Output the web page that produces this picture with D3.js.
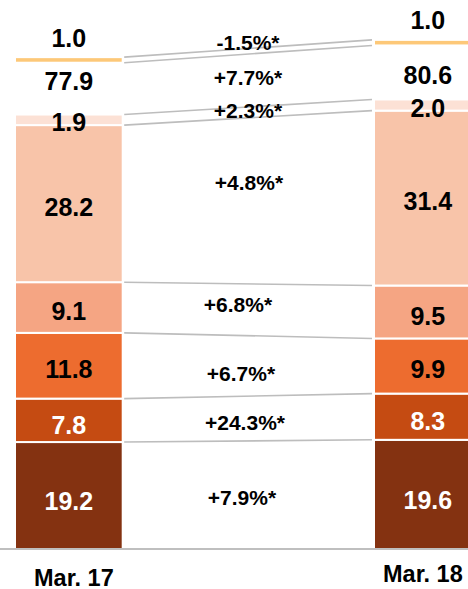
<!DOCTYPE html>
<html>
<head>
<meta charset="utf-8">
<script src="https://cdn.jsdelivr.net/npm/d3@7"></script>
<style>
  html, body { margin: 0; padding: 0; background: #fff; }
  svg { display: block; }
  text { font-family: "Liberation Sans", Arial, Helvetica, sans-serif; font-weight: bold; }
</style>
</head>
<body>
<svg id="chart" width="468" height="589"></svg>
<script>
// ---------------- DATA ----------------
const categories = ["Mar. 17", "Mar. 18"];
const segment1 = [19.2, 19.6];
const segment2 = [7.8, 8.3];
const segment3 = [11.8, 9.9];
const segment4 = [9.1, 9.5];
const segment5 = [28.2, 31.4];
const segment6 = [1.9, 2.0];
const totals = [77.9, 80.6];
const breakGap = [9.3, 9.7];      // invisible spacer (broken-axis gap)
const segmentTop = [1.0, 1.0];
const growthLabels = ["+7.9%*", "+24.3%*", "+6.7%*", "+6.8%*", "+4.8%*", "+2.3%*", "+7.7%*", "-1.5%*"];

// ---------------- LAYOUT / STYLE ----------------
const W = 468, H = 589;
const baseY = 549;
const colors = ["#843211", "#c54b12", "#ed6c2f", "#f5a583", "#f8c4a9", "#fce1d5", "none", "#fdc878"];
const textColors = ["#fff", "#fff", "#000", "#000", "#000", "#000", "#000", "#000"];
const valueFont = 25, growthFont = 21, axisFont = 23.5;
const valueNudge = [5.5, 4.5, 3, 4, 3, 2.5];
const totalNudge = [-7.6, 2.5];
const growthNudgeY = [3, 3.6, 8, -4.8, -18, -2.4, -2.6, -8.6];
const growthX = [242, 245, 241, 238, 249, 248, 248, 248];
const axisDx = [5, -5], axisCenterY = [577.5, 573.5];

const keys = ["s1", "s2", "s3", "s4", "s5", "s6", "gap", "top"];
const seriesArrays = [segment1, segment2, segment3, segment4, segment5, segment6, breakGap, segmentTop];
const table = categories.map((c, i) => {
  const row = { cat: c };
  keys.forEach((k, j) => row[k] = seriesArrays[j][i]);
  return row;
});
const stacked = d3.stack().keys(keys)(table);

const svg = d3.select("#chart");
const x = d3.scaleBand().domain(categories).range([15, 481.7]).paddingInner(0.7).paddingOuter(0);
const y = d3.scaleLinear().domain([0, 98.56]).range([baseY, 0]);
const bw = x.bandwidth();

// connector lines
const connectors = [];
for (let j = 0; j < 6; j++) connectors.push([stacked[j][0][1], stacked[j][1][1]]);
connectors.push([stacked[7][0][0], stacked[7][1][0]]);
connectors.push([stacked[7][0][1], stacked[7][1][1]]);
const x1 = x(categories[0]) + bw + 1.5;
const x2 = x(categories[1]) - 2;
svg.append("g").selectAll("line").data(connectors).join("line")
  .attr("x1", x1).attr("x2", x2)
  .attr("y1", d => y(d[0])).attr("y2", d => y(d[1]))
  .attr("stroke", "#bdbdbd").attr("stroke-width", 1.6);

// bars
stacked.forEach((s, j) => {
  if (colors[j] === "none") return;
  svg.append("g").selectAll("rect").data(s).join("rect")
    .attr("x", d => x(d.data.cat))
    .attr("width", bw)
    .attr("y", d => y(d[1]))
    .attr("height", d => y(d[0]) - y(d[1]))
    .attr("fill", colors[j])
    .attr("stroke", "#fff").attr("stroke-width", 2);
});

// baseline
svg.append("line").attr("x1", 0).attr("x2", W).attr("y1", baseY).attr("y2", baseY)
  .attr("stroke", "#bfbfbf").attr("stroke-width", 2);

// value labels for segments
for (let j = 0; j < 6; j++) {
  svg.append("g").selectAll("text").data(stacked[j]).join("text")
    .attr("x", d => x(d.data.cat) + bw / 2)
    .attr("y", d => (y(d[0]) + y(d[1])) / 2 + valueNudge[j] + 0.358 * valueFont)
    .attr("text-anchor", "middle")
    .attr("font-size", valueFont)
    .attr("fill", textColors[j])
    .text((d, i) => seriesArrays[j][i].toFixed(1));
}
// totals
svg.append("g").selectAll("text").data(stacked[6]).join("text")
  .attr("x", d => x(d.data.cat) + bw / 2)
  .attr("y", (d, i) => (y(d[0]) + y(d[1])) / 2 + totalNudge[i] + 0.358 * valueFont)
  .attr("text-anchor", "middle").attr("font-size", valueFont).attr("fill", "#000")
  .text((d, i) => totals[i].toFixed(1));
// top segment labels
svg.append("g").selectAll("text").data(stacked[7]).join("text")
  .attr("x", d => x(d.data.cat) + bw / 2)
  .attr("y", d => y(d[1]) - 19.5 + 0.358 * valueFont)
  .attr("text-anchor", "middle").attr("font-size", valueFont).attr("fill", "#000")
  .text((d, i) => segmentTop[i].toFixed(1));

// growth labels
svg.append("g").selectAll("text").data(growthLabels).join("text")
  .attr("x", (d, j) => growthX[j])
  .attr("y", (d, j) => {
    const s = stacked[j];
    const m = ((y(s[0][0]) + y(s[0][1])) / 2 + (y(s[1][0]) + y(s[1][1])) / 2) / 2;
    return m + growthNudgeY[j] + 0.358 * growthFont;
  })
  .attr("text-anchor", "middle").attr("font-size", growthFont).attr("fill", "#000")
  .text(d => d);

// x axis
const axis = svg.append("g").attr("transform", `translate(0,${baseY})`)
  .call(d3.axisBottom(x).tickSize(0));
axis.select(".domain").remove();
axis.selectAll(".tick text")
  .attr("font-size", axisFont)
  .attr("fill", "#000")
  .attr("font-family", null)
  .attr("dy", null)
  .attr("dx", (d, i) => axisDx[i])
  .attr("y", (d, i) => axisCenterY[i] - baseY + 0.358 * axisFont);
</script>
</body>
</html>
